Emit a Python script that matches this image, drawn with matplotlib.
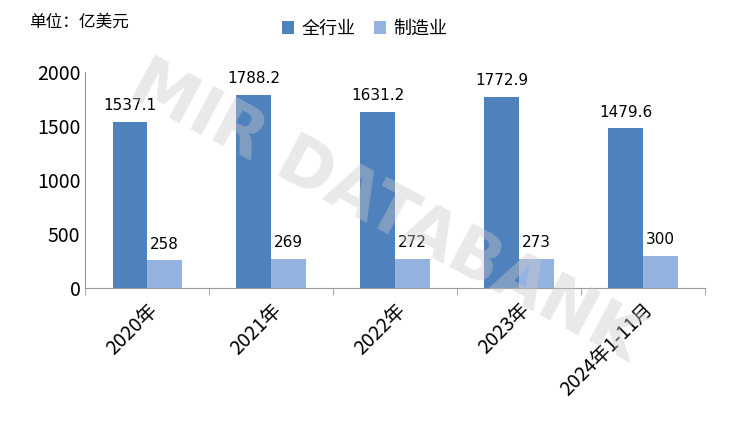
import matplotlib.pyplot as plt
import numpy as np

plt.rcParams['font.family'] = ['Noto Sans CJK SC', 'DejaVu Sans']

categories = ['2020年', '2021年', '2022年', '2023年', '2024年1-11月']
all_industry = [1537.1, 1788.2, 1631.2, 1772.9, 1479.6]
manufacturing = [258, 269, 272, 273, 300]
all_labels = ['1537.1', '1788.2', '1631.2', '1772.9', '1479.6']
mfg_labels = ['258', '269', '272', '273', '300']

fig = plt.figure(figsize=(7.29, 4.42), dpi=100)
ax = fig.add_axes([0.117, 0.348, 0.85, 0.489])

x = np.arange(len(categories))
w = 0.28
b1 = ax.bar(x - w / 2, all_industry, w, color='#4f81bd', label='全行业')
b2 = ax.bar(x + w / 2, manufacturing, w, color='#95b3e0', label='制造业')

for rect, t in zip(b1, all_labels):
    ax.text(rect.get_x() + rect.get_width() / 2, rect.get_height() + 80, t,
            ha='center', va='bottom', fontsize=11, family='DejaVu Sans')
for rect, t in zip(b2, mfg_labels):
    ax.text(rect.get_x() + rect.get_width() / 2, rect.get_height() + 80, t,
            ha='center', va='bottom', fontsize=11, family='DejaVu Sans')

ax.set_xlim(-0.5, len(categories) - 0.5)
ax.set_ylim(0, 2000)
ax.set_yticks([0, 500, 1000, 1500, 2000])
ax.set_xticks(np.arange(-0.5, len(categories), 1), minor=True)
ax.set_xticks(x)
ax.set_xticklabels(categories, rotation=45, ha='right', rotation_mode='anchor', fontsize=14)
ax.tick_params(axis='x', which='major', length=0, pad=8)
ax.tick_params(axis='x', which='minor', length=5, color='#999999')
ax.tick_params(axis='y', labelsize=14, length=0)
for s in ['top', 'right']:
    ax.spines[s].set_visible(False)
ax.spines['left'].set_color('#999999')
ax.spines['bottom'].set_color('#999999')

fig.text(0.04, 0.95, '单位：亿美元', fontsize=12, va='center')
fig.legend(loc='center', bbox_to_anchor=(0.5, 0.935), ncol=2, frameon=False,
           fontsize=13, handlelength=0.7, handleheight=0.7, columnspacing=1.0,
           handletextpad=0.4)

fig.text(0.53, 0.52, 'MIR DATABANK', fontsize=48, fontweight='bold', color='#c8c8c8',
         alpha=0.4, rotation=-28, ha='center', va='center', family='DejaVu Sans')

fig.savefig('out.png', dpi=100)
